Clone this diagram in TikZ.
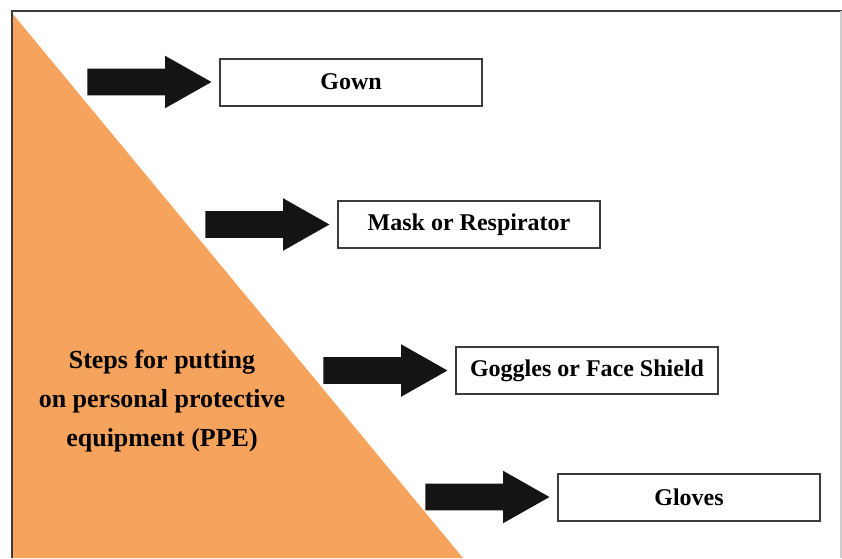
\documentclass[tikz,border=0pt]{standalone}
\usepackage{fontspec}
\setmainfont{Liberation Serif}
\usetikzlibrary{positioning,shapes.arrows}
\definecolor{ppeorange}{RGB}{245,163,93}
\definecolor{framegray}{RGB}{60,60,60}

\begin{document}
\begin{tikzpicture}[x=0.75pt,y=-0.75pt,
                    stepbox/.style = {draw=framegray,
                                line width=1.5pt,
                                minimum width=196.5pt,
                                minimum height=35.25pt,
                                inner sep=0pt,
                                font=\fontsize{18}{21}\selectfont\bfseries},
                    fatarrow/.style = {single arrow,
                                fill=black!92,
                                inner xsep=0pt,
                                inner ysep=9.75pt,
                                single arrow head extend=9.75pt,
                                single arrow tip angle=59,
                                minimum height=93pt}]
                    \useasboundingbox (0,0) rectangle (842,558);
                    % Orange triangle
                    \fill[ppeorange] (12,13) -- (12,558) -- (463,558) -- cycle;
                    % Frame
                    \draw[framegray, line width=1.5pt] (12,558) -- (12,11) -- (842,11);
                    \draw[black!20, line width=1pt] (841,11) -- (841,558);
                    % Title
                    \node[align=center, font=\fontsize{19.5}{29}\selectfont\bfseries] (title) at (162,401) {Steps for putting\\on personal protective\\equipment (PPE)};
                    % Steps
                    \node[stepbox] (gown) at (351,82) {Gown};
                    \node[stepbox] (mask) at (469,224.5) {Mask or Respirator};
                    \node[stepbox] (goggles) at (587,370.5) {Goggles or Face Shield};
                    \node[stepbox] (gloves) at (689,497) {Gloves};
                    % Arrows
                    \node[fatarrow, left=5.25pt of gown] (toGown) {};
                    \node[fatarrow, left=5.25pt of mask] (toMask) {};
                    \node[fatarrow, left=5.25pt of goggles] (toGoggles) {};
                    \node[fatarrow, left=5.25pt of gloves] (toGloves) {};
                \end{tikzpicture}
\end{document}
